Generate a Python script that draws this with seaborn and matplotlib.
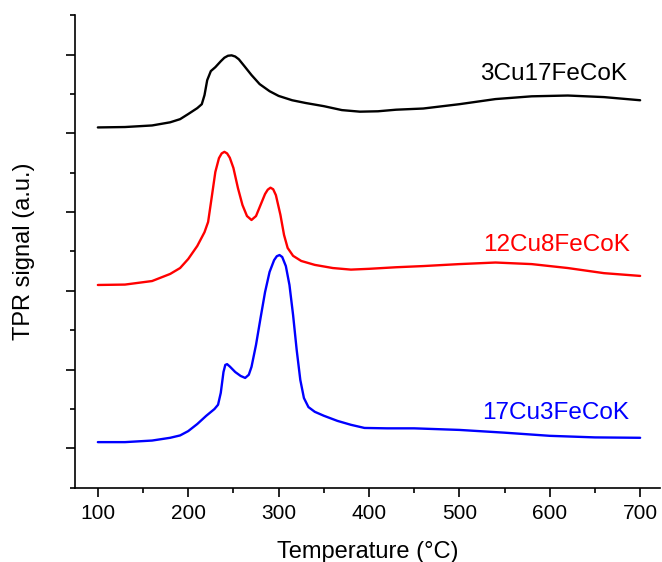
import numpy as np
import pandas as pd
import matplotlib
matplotlib.use("Agg")
import matplotlib.pyplot as plt
import seaborn as sns
from matplotlib.ticker import MultipleLocator

# ---- data ----
blue_x = [100, 130, 160, 180, 191, 200, 210, 220, 229, 233, 236, 239, 241, 243, 246, 252, 258, 263, 267, 270,
          275, 280, 285, 290, 295, 298, 301, 304, 308, 312, 316, 320, 324, 328, 333, 340, 350, 365, 380, 395,
          420, 450, 500, 550, 600, 650, 700]
blue_y = [1.16, 1.16, 1.20, 1.27, 1.33, 1.44, 1.62, 1.83, 2.00, 2.11, 2.41, 2.94, 3.12, 3.14, 3.08, 2.94, 2.84,
          2.79, 2.87, 3.07, 3.63, 4.31, 4.97, 5.48, 5.78, 5.88, 5.91, 5.86, 5.63, 5.15, 4.39, 3.50, 2.74, 2.28,
          2.05, 1.93, 1.83, 1.70, 1.60, 1.52, 1.51, 1.51, 1.47, 1.40, 1.32, 1.28, 1.27]

red_x = [100, 130, 160, 180, 191, 200, 210, 218, 222, 226, 230, 234, 237, 240, 243, 246, 250, 255, 260, 265,
         270, 275, 280, 285, 288, 291, 294, 297, 302, 306, 310, 316, 325, 340, 360, 380, 400, 430, 460, 500,
         540, 580, 620, 660, 700]
red_y = [5.15, 5.16, 5.25, 5.43, 5.58, 5.81, 6.14, 6.49, 6.75, 7.38, 8.02, 8.37, 8.49, 8.53, 8.49, 8.38, 8.12,
         7.61, 7.18, 6.90, 6.80, 6.90, 7.18, 7.46, 7.57, 7.62, 7.58, 7.43, 6.93, 6.42, 6.09, 5.89, 5.76, 5.66,
         5.58, 5.54, 5.56, 5.60, 5.63, 5.68, 5.72, 5.68, 5.58, 5.45, 5.38]

black_x = [100, 130, 160, 180, 191, 200, 210, 215, 218, 221, 225, 230, 236, 240, 244, 248, 252, 256, 262, 270, 279,
           290, 300, 315, 330, 350, 370, 390, 410, 430, 460, 500, 540, 580, 620, 660, 700]
black_y = [9.15, 9.16, 9.20, 9.28, 9.36, 9.49, 9.64, 9.74, 9.97, 10.35, 10.58, 10.68, 10.83, 10.92, 10.97, 10.98,
           10.95, 10.88, 10.71, 10.48, 10.25, 10.07, 9.95, 9.84, 9.77, 9.69, 9.59, 9.55, 9.56, 9.60, 9.63, 9.74,
           9.87, 9.94, 9.96, 9.92, 9.84]

samples = ["3Cu17FeCoK", "12Cu8FeCoK", "17Cu3FeCoK"]
colors = ["black", "red", "blue"]

df = pd.concat([
    pd.DataFrame({"T": black_x, "s": black_y, "sample": samples[0]}),
    pd.DataFrame({"T": red_x, "s": red_y, "sample": samples[1]}),
    pd.DataFrame({"T": blue_x, "s": blue_y, "sample": samples[2]}),
])

sns.set_style("ticks")
plt.rcParams["font.family"] = ["Liberation Sans", "DejaVu Sans"]
plt.rcParams["text.color"] = "black"
plt.rcParams["axes.labelcolor"] = "black"

fig = plt.figure(figsize=(6.62, 5.62), dpi=100)
ax = fig.add_axes([0.113, 0.132, 0.884, 0.841])

sns.lineplot(data=df, x="T", y="s", hue="sample", palette=dict(zip(samples, colors)),
             linewidth=1.7, legend=False, ax=ax, sort=False, estimator=None)

ax.set_xlim(74.5, 722)
ax.set_ylim(0, 12)
ax.xaxis.set_major_locator(MultipleLocator(100))
ax.xaxis.set_minor_locator(MultipleLocator(50))
ax.set_yticks([1, 3, 5, 7, 9, 11])
ax.set_yticks([0, 2, 4, 6, 8, 10, 12], minor=True)
ax.set_yticklabels([])
ax.tick_params(axis="both", which="major", direction="out", length=6.5, width=1.2,
               labelsize=15, colors="black", labelcolor="black", pad=5)
ax.tick_params(axis="both", which="minor", direction="out", length=3.3, width=1.2, colors="black")
for side in ["left", "bottom"]:
    ax.spines[side].set_linewidth(1.2)
    ax.spines[side].set_color("black")
sns.despine(ax=ax)

ax.set_xlabel("Temperature (°C)", fontsize=17, labelpad=13, color="black")
ax.set_ylabel("TPR signal (a.u.)", fontsize=17, labelpad=17, color="black")

ax.text(604, 10.50, samples[0], color="black", fontsize=17.5, ha="center", va="center")
ax.text(607, 6.16, samples[1], color="red", fontsize=17.5, ha="center", va="center")
ax.text(607, 1.90, samples[2], color="blue", fontsize=17.5, ha="center", va="center")

fig.savefig("out.png", dpi=100)
